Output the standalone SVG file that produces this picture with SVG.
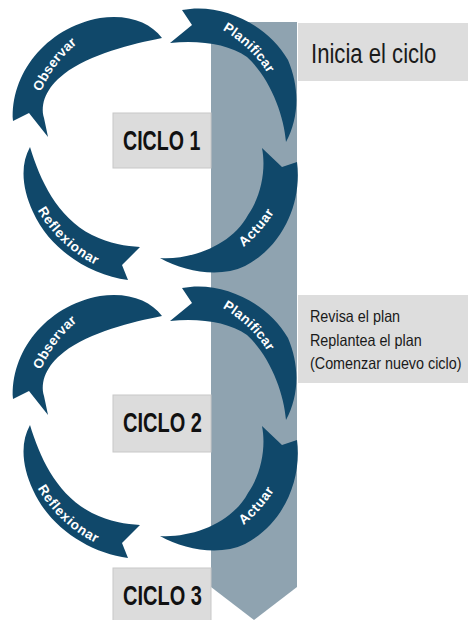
<svg xmlns="http://www.w3.org/2000/svg" width="468" height="620" viewBox="0 0 468 620">
<style>
.arrow{fill:#10486a}
.lbl{fill:#ffffff;font-family:"Liberation Sans",Arial,sans-serif;font-weight:bold;font-size:13.5px;letter-spacing:0.5px}
.box{fill:#dddddd}
.cbox{fill:#dcdcdc;stroke:#c8c8c8;stroke-width:1}
.ciclo{font-family:"Liberation Sans",Arial,sans-serif;font-weight:bold;font-size:28px;fill:#111111}
.note{font-family:"Liberation Sans",Arial,sans-serif;fill:#1a1a1a}
.band{fill:#8fa3b0}
</style>
<defs>
<path id="aP" d="M182,10 C222,2 268,25 288,60 C300,88 299,118 286,142 C284,115 270,78 247,57 C228,44 200,40 170,43 L192,25 Z"/>
<path id="aA" d="M297,162 C302,200 285,245 245,266 C220,278 185,272 160,258 C192,260 232,245 248,215 C262,195 266,168 262,148 L282,167 Z"/>
<path id="aR" d="M128,280 C90,275 50,250 33,212 C22,188 20,165 30,147 C40,180 57,217 92,235 C110,244 126,246 140,247 L122,265 Z"/>
<path id="aO" d="M13,121 C10,75 45,28 100,18 C128,14 150,22 162,38 C132,44 90,54 64,74 C46,88 40,104 44,118 L48,137 L29,113 Z"/>
<path id="tO" d="M27,125.9 A132,132 0 0 1 106.4,20.5"/>
<path id="tP" d="M190.4,12 A134,134 0 0 1 286.8,105.1"/>
<path id="tA" d="M202.8,265.1 A131,131 0 0 0 286.1,169.2"/>
<path id="tR" d="M29.9,181.2 A133,133 0 0 0 125.6,271"/>
</defs>

<g id="connectors">
<path id="flow-band" class="band" d="M211,22 H297 V587 L254,620 L211,587 Z"/>
</g>

<g id="inicia">
<rect class="box" x="298" y="23" width="170" height="58"/>
<text class="note" font-size="28" transform="translate(311,63) scale(0.79,1)">Inicia el ciclo</text>
</g>

<g id="revisa">
<rect class="box" x="298" y="295" width="170" height="88"/>
<g transform="translate(310,0) scale(0.87,1)">
<text class="note" x="0" y="322.5" font-size="16.5">Revisa el plan</text>
<text class="note" x="0" y="346" font-size="16.5">Replantea el plan</text>
<text class="note" x="0" y="369.5" font-size="16.5">(Comenzar nuevo ciclo)</text>
</g>
</g>

<g id="ciclo1">
<rect class="cbox" x="113" y="113" width="98" height="55"/>
<text class="ciclo" transform="translate(123,150) scale(0.7,1)">CICLO 1</text>
</g>
<g id="ciclo2">
<rect class="cbox" x="113" y="395" width="98" height="57"/>
<text class="ciclo" transform="translate(123,432) scale(0.715,1)">CICLO 2</text>
</g>
<g id="ciclo3">
<rect class="cbox" x="113" y="568" width="98" height="56"/>
<text class="ciclo" transform="translate(123,605) scale(0.715,1)">CICLO 3</text>
</g>

<g id="c1-planificar"><use href="#aP" class="arrow"/><text class="lbl" dy="4.6"><textPath href="#tP" startOffset="50%" text-anchor="middle">Planificar</textPath></text></g>
<g id="c1-actuar"><use href="#aA" class="arrow"/><text class="lbl" dy="4.6"><textPath href="#tA" startOffset="50%" text-anchor="middle">Actuar</textPath></text></g>
<g id="c1-reflexionar"><use href="#aR" class="arrow"/><text class="lbl" dy="4.6"><textPath href="#tR" startOffset="50%" text-anchor="middle">Reflexionar</textPath></text></g>
<g id="c1-observar"><use href="#aO" class="arrow"/><text class="lbl" dy="4.6"><textPath href="#tO" startOffset="50%" text-anchor="middle">Observar</textPath></text></g>

<g id="c2-planificar" transform="translate(0,278)"><use href="#aP" class="arrow"/><text class="lbl" dy="4.6"><textPath href="#tP" startOffset="50%" text-anchor="middle">Planificar</textPath></text></g>
<g id="c2-actuar" transform="translate(0,278)"><use href="#aA" class="arrow"/><text class="lbl" dy="4.6"><textPath href="#tA" startOffset="50%" text-anchor="middle">Actuar</textPath></text></g>
<g id="c2-reflexionar" transform="translate(0,278)"><use href="#aR" class="arrow"/><text class="lbl" dy="4.6"><textPath href="#tR" startOffset="50%" text-anchor="middle">Reflexionar</textPath></text></g>
<g id="c2-observar" transform="translate(0,278)"><use href="#aO" class="arrow"/><text class="lbl" dy="4.6"><textPath href="#tO" startOffset="50%" text-anchor="middle">Observar</textPath></text></g>
</svg>
